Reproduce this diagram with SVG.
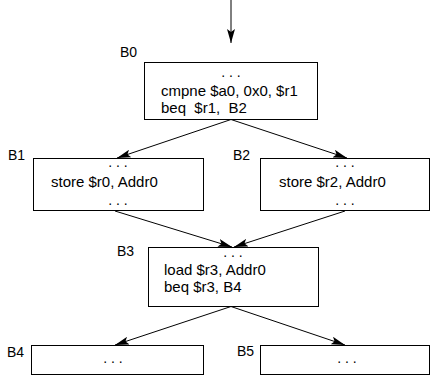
<svg xmlns="http://www.w3.org/2000/svg" width="430" height="377" viewBox="0 0 430 377">
<style>
  rect.blk { fill: #ffffff; stroke: #000000; stroke-width: 1; }
  text { font-family: "Liberation Sans", Arial, sans-serif; font-size: 15px; fill: #000000; white-space: pre; }
  text.lbl { font-size: 14px; }
  text.c { text-anchor: middle; font-size: 14px; }
  line.e { stroke: #000000; stroke-width: 1; marker-end: url(#ah); }
</style>
<defs>
  <marker id="ah" markerWidth="15" markerHeight="8" refX="14" refY="4" orient="auto" markerUnits="userSpaceOnUse">
    <path d="M0,0 L14,4 L0,8 L3,4 Z" fill="#000000"/>
  </marker>
</defs>
<rect width="430" height="377" fill="#ffffff"/>
<g id="connectors">
  <line class="e" x1="231" y1="0" x2="231" y2="43"/>
  <line class="e" x1="231" y1="119.5" x2="117" y2="158"/>
  <line class="e" x1="231" y1="119.5" x2="347" y2="158"/>
  <line class="e" x1="115" y1="211" x2="232" y2="247"/>
  <line class="e" x1="345" y1="211" x2="234" y2="247"/>
  <line class="e" x1="231" y1="306.5" x2="115" y2="345"/>
  <line class="e" x1="231" y1="306.5" x2="345" y2="345"/>
</g>
<g id="B0">
  <text class="lbl" x="120" y="57">B0</text>
  <rect class="blk" x="144.5" y="62.5" width="173" height="57"/>
  <text class="c" x="231" y="77">. . .</text>
  <text x="161" y="96">cmpne $a0, 0x0, $r1</text>
  <text x="161" y="113">beq  $r1,  B2</text>
</g>
<g id="B1">
  <text class="lbl" x="8" y="160">B1</text>
  <rect class="blk" x="33.5" y="158.5" width="170" height="52"/>
  <text class="c" x="118" y="167">. . .</text>
  <text x="51" y="187">store $r0, Addr0</text>
  <text class="c" x="118" y="205">. . .</text>
</g>
<g id="B2">
  <text class="lbl" x="233" y="160">B2</text>
  <rect class="blk" x="260.5" y="158.5" width="169" height="52"/>
  <text class="c" x="345" y="167">. . .</text>
  <text x="279" y="187">store $r2, Addr0</text>
  <text class="c" x="345" y="205">. . .</text>
</g>
<g id="B3">
  <text class="lbl" x="117" y="256">B3</text>
  <rect class="blk" x="148.5" y="247.5" width="170" height="59"/>
  <text class="c" x="233" y="257">. . .</text>
  <text x="164" y="275">load $r3, Addr0</text>
  <text x="164" y="292">beq $r3, B4</text>
</g>
<g id="B4">
  <text class="lbl" x="7" y="357">B4</text>
  <rect class="blk" x="31.5" y="345.5" width="172" height="29"/>
  <text class="c" x="113" y="363">. . .</text>
</g>
<g id="B5">
  <text class="lbl" x="237" y="356">B5</text>
  <rect class="blk" x="260.5" y="345.5" width="169" height="29"/>
  <text class="c" x="347" y="363">. . .</text>
</g>
</svg>
